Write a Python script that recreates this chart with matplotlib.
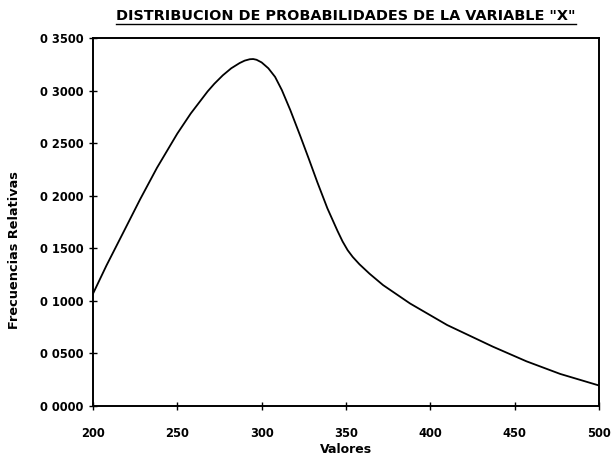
import matplotlib
matplotlib.use("Agg")
import matplotlib.pyplot as plt
from matplotlib.lines import Line2D

# ---- data ----
valores = [200, 208, 218, 228, 238, 250, 258, 268, 272, 277, 282, 287, 290,
           293, 295, 297, 300, 304, 308, 312, 317, 323, 328, 333, 339, 345,
           348, 351, 354, 358, 364, 372, 388, 410, 437, 457, 477, 500]
frecuencias = [0.1066, 0.1335, 0.1650, 0.1966, 0.2266, 0.2590, 0.2782, 0.2992,
               0.3065, 0.3145, 0.3212, 0.3262, 0.3285, 0.3298, 0.3300, 0.3293,
               0.3268, 0.3212, 0.3130, 0.3005, 0.2815, 0.2565, 0.2350, 0.2130,
               0.1880, 0.1665, 0.1565, 0.1482, 0.1418, 0.1348, 0.1258, 0.1150,
               0.0975, 0.0770, 0.0565, 0.0425, 0.0305, 0.0195]

xticks = [200, 250, 300, 350, 400, 450, 500]
xtick_labels = ["200", "250", "300", "350", "400", "450", "500"]
yticks = [0.0, 0.05, 0.10, 0.15, 0.20, 0.25, 0.30, 0.35]
ytick_labels = ["0 0000", "0 0500", "0 1000", "0 1500", "0 2000",
                "0 2500", "0 3000", "0 3500"]

title_text = 'DISTRIBUCION DE PROBABILIDADES DE LA VARIABLE "X"'
xlabel_text = "Valores"
ylabel_text = "Frecuencias Relativas"

# ---- figure ----
W, H = 613, 459
fig = plt.figure(figsize=(W / 100, H / 100), dpi=100)
fig.patch.set_facecolor("white")

left, right, top, bottom = 92.9, 599.0, 38.0, 406.0
ax = fig.add_axes([left / W, 1 - bottom / H, (right - left) / W, (bottom - top) / H])

ax.plot(valores, frecuencias, color="black", linewidth=1.3,
        solid_capstyle="round", solid_joinstyle="round")

ax.set_xlim(200, 500)
ax.set_ylim(0, 0.35)
ax.set_xticks(xticks)
ax.set_xticklabels(xtick_labels)
ax.set_yticks(yticks)
ax.set_yticklabels(ytick_labels)

font = dict(family="DejaVu Sans", weight="bold")
for lab in ax.get_xticklabels() + ax.get_yticklabels():
    lab.set_fontfamily("DejaVu Sans")
    lab.set_fontweight("bold")
    lab.set_fontsize(8.3)

ax.tick_params(axis="both", direction="inout", length=6, width=1.0, color="black")
ax.tick_params(axis="x", pad=12)
ax.tick_params(axis="y", pad=4)

for s in ax.spines.values():
    s.set_linewidth(1.4)
    s.set_color("black")

ax.set_xlabel(xlabel_text, fontsize=9, **font)
ax.xaxis.set_label_coords(0.5, -(443 - bottom) / (bottom - top))
ax.set_ylabel(ylabel_text, fontsize=9.3, **font)
ax.yaxis.set_label_coords((21 - left) / (right - left), (bottom - 250) / (bottom - top))

# title with underline
t = fig.text(346.0 / W, 1 - 16.5 / H, title_text, ha="center", va="center",
             fontsize=10.4, **font)
fig.canvas.draw()
bb = t.get_window_extent(renderer=fig.canvas.get_renderer())
uy = 1 - 23.5 / H
fig.add_artist(Line2D([bb.x0 / W, bb.x1 / W], [uy, uy], color="black",
                      linewidth=1.0, transform=fig.transFigure))

fig.savefig("out.png", dpi=100, facecolor="white")
